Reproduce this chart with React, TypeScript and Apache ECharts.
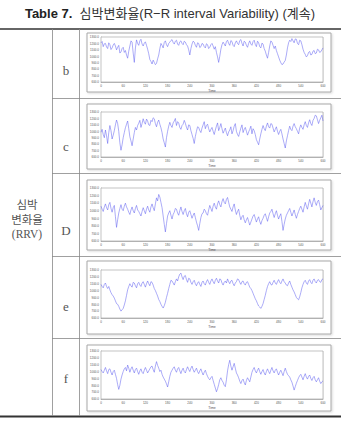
import React, { useEffect, useRef } from "react";
import * as echarts from "echarts";

const TITLE_BOLD = "Table 7.";
const TITLE_REST = "심박변화율(R−R interval Variability) (계속)";
const ROW_LABELS = ["b", "c", "D", "e", "f"];
const GROUP_LABEL = ["심박", "변화율", "(RRV)"];
const X_NAME = "Time";
const STEP_SEC = 3;
const Y_MIN = 600;
const Y_MAX = 1300;
const Y_STEP = 100;
const X_MAX = 600;
const X_STEP = 60;

const seriesB = [1210,1230,1150,1195,1200,1145,1120,1210,1180,1105,1130,1175,1200,1160,1100,1140,1170,1050,1070,1120,
1140,1060,1090,1020,970,1080,1160,1240,1220,1050,905,1130,1255,1200,1170,1240,1265,1190,1160,1205,
1225,1170,1110,1040,950,920,880,940,905,870,890,960,1020,1120,1200,1170,1130,1215,1240,1180,
1150,1200,1220,1245,1260,1215,1190,1235,1250,1190,1170,1225,1240,1200,1180,1235,1220,1180,1160,1100,
1020,1120,1190,1235,1220,1170,1140,1210,1200,1135,1150,1200,1190,1150,1130,1195,1180,1120,1140,1180,
1200,1160,1110,1150,1060,990,905,1000,1110,1180,1220,1190,1160,1230,1250,1200,1170,1245,1230,1170,
1150,1210,1240,1200,1180,1245,1260,1200,1160,1235,1220,1170,1140,1200,1240,1190,1170,1230,1250,1185,
1150,1235,1210,1150,1130,1205,1190,1120,1080,1020,970,1060,1160,1240,1220,1170,1120,1160,1090,1040,
990,940,900,870,880,910,935,1020,1130,1210,1250,1230,1275,1240,1210,1270,1265,1200,1180,1250,
1240,1180,1110,1060,1030,990,1010,1060,1075,1020,1030,1080,1090,1040,1050,1110,1100,1060,1070,1100,
1130];
const seriesC = [985,1030,950,900,1020,930,810,980,1090,1010,880,940,1010,1100,1175,1120,1000,820,705,790,
900,980,1055,1110,1160,1040,915,850,775,880,980,1060,1020,1090,1125,1170,1060,1120,1195,1140,
1110,1190,1160,1100,1090,1170,1150,1210,1195,1120,1070,1140,1175,1110,1055,980,880,820,755,900,
1000,1080,1140,1090,1060,1130,1160,1200,1090,1150,1130,1060,1030,1090,1110,1170,1125,1060,1020,1100,
1090,1010,950,890,810,920,1000,1070,1060,1010,980,1050,1100,1150,1040,1090,1110,1040,990,1030,
1060,1000,950,1020,1080,1130,1010,1060,1120,1040,970,1010,1050,980,930,990,1020,1070,960,1010,
1080,1120,1000,950,920,990,1050,1100,980,1030,1060,1000,940,990,1030,1080,960,1040,1010,950,
870,830,790,880,960,1030,1090,1040,1010,1080,1130,1070,1050,1120,1110,1050,990,1030,1070,1000,
950,1000,1030,960,880,810,740,850,930,1010,1080,1030,1010,1080,1120,1070,1040,1000,960,1050,
1100,1060,1030,1100,1150,1090,1060,1130,1180,1120,1090,1170,1200,1250,1240,1180,1120,1170,1210,1250,
1160];
const seriesD = [1060,1020,990,1050,1090,1040,1010,1080,1110,1030,980,1040,1070,920,780,880,970,1030,1080,1020,
1000,1060,1100,1050,1020,980,950,1010,1050,1000,970,1030,1070,1010,990,960,930,990,1040,1000,
960,1020,1060,1010,980,1050,1090,1040,1000,1090,1170,1130,1215,1180,1110,1040,930,820,720,830,
930,970,1000,940,890,950,980,1030,1020,970,940,1000,1050,990,950,1000,1030,960,920,980,
1000,950,900,940,970,910,850,800,740,830,910,960,970,1020,1000,960,940,1010,1070,1030,
990,1060,1100,1050,1020,1090,1130,1080,1050,1120,1160,1110,1090,1150,1175,1110,1050,1020,990,1050,
1090,1010,950,990,1020,940,880,920,940,880,840,880,910,860,810,850,890,930,950,900,
850,890,920,860,820,870,900,940,960,910,860,920,970,990,1020,960,910,960,1000,940,
890,930,960,860,740,820,890,940,970,1000,1030,980,930,970,1010,950,900,950,990,1030,
1060,1020,980,1050,1110,1060,1020,1090,1150,1100,1050,1120,1170,1110,1070,1120,1140,1080,1010,1040,
1070];
const seriesE = [1090,1060,1040,1090,1110,1060,1030,1060,1010,970,940,920,890,850,810,800,770,730,700,720,
740,790,850,930,1010,1060,1100,1070,1050,1120,1110,1070,1040,1100,1120,1080,1060,1110,1130,1090,
1050,1100,1140,1100,1070,1130,1120,1080,1030,1000,960,920,870,840,800,770,745,780,830,900,
960,1030,1090,1150,1140,1110,1080,1130,1170,1140,1200,1240,1255,1200,1160,1210,1220,1160,1120,1180,
1170,1120,1090,1130,1150,1100,1070,1110,1130,1090,1060,1120,1140,1100,1080,1130,1160,1120,1090,1140,
1170,1130,1100,1150,1180,1140,1110,1170,1160,1110,1080,1120,1140,1110,1170,1130,1100,1140,1150,1100,
1070,1110,1130,1170,1160,1120,1090,1130,1140,1100,1080,1120,1130,1090,1050,1030,1000,960,920,880,
850,810,775,760,740,770,810,870,930,1000,1060,1100,1130,1090,1080,1120,1150,1110,1090,1130,
1160,1120,1100,1140,1170,1130,1110,1080,1070,1110,1140,1090,1050,1010,980,940,900,880,865,910,
970,1040,1090,1130,1150,1110,1090,1140,1160,1120,1100,1150,1170,1130,1110,1150,1160,1130,1120,1160,
1170];
const seriesF = [1030,1000,980,1020,1060,1010,970,1030,1040,990,950,1000,1020,960,900,810,740,800,890,950,
1000,1040,1060,1010,1095,1050,990,1040,1070,1020,980,1030,1050,1000,960,1010,1040,990,970,1020,
1060,1020,980,1010,1040,1070,1080,1030,990,1080,1145,1090,1050,1000,1020,960,920,890,860,820,
775,850,930,990,1020,1050,1070,1020,990,1040,1060,1010,970,1020,1050,1000,980,1030,1070,1030,
1000,1050,1080,1030,990,1020,1050,1000,970,1010,1040,990,950,990,1020,970,930,900,880,910,
930,870,815,760,705,750,810,880,910,870,845,800,780,880,1010,1100,1165,1080,1020,1070,
1120,1050,980,950,910,860,825,870,890,840,805,870,910,880,850,920,990,1030,1060,1010,
980,1020,1050,1000,960,1000,1030,980,950,1000,1040,1000,970,1020,1060,1010,980,1020,1040,990,
950,990,1020,980,940,1000,1050,1000,960,940,920,880,845,790,730,780,830,870,910,940,
960,920,880,930,970,920,890,930,950,900,870,910,930,880,850,880,910,860,825,850,
865];

const ALL_SERIES = [seriesB, seriesC, seriesD, seriesE, seriesF];

// layout (pixels)
const PLOT_TOPS = [37, 112, 188, 270, 351];
const PLOT_HEIGHTS = [45, 45, 53, 48, 48];
const FRAME_TOPS = [33, 104, 180, 261, 345];
const FRAME_BOTTOMS = [92, 169, 250, 334, 411];
const ROW_SEPS = [98, 173, 256, 338];
const ROW_LABEL_Y = [70, 146, 230, 306, 378];

export default function App() {
  const ref = useRef<HTMLDivElement>(null);
  useEffect(() => {
    if (!ref.current) return;
    const chart = echarts.init(ref.current, null, { renderer: "svg" });
    const grids: any[] = [];
    const xAxes: any[] = [];
    const yAxes: any[] = [];
    const series: any[] = [];
    ALL_SERIES.forEach((arr, k) => {
      grids.push({
        left: 101,
        width: 222,
        top: PLOT_TOPS[k],
        height: PLOT_HEIGHTS[k],
        show: true,
        borderColor: "#9a9a9a",
        borderWidth: 0.6,
        backgroundColor: "#fff",
        z: 1,
      });
      xAxes.push({
        type: "value",
        gridIndex: k,
        min: 0,
        max: X_MAX,
        interval: X_STEP,
        name: X_NAME,
        nameLocation: "middle",
        nameGap: 7,
        nameTextStyle: { fontSize: 3.5, color: "#555", fontFamily: "Liberation Sans" },
        axisLine: { lineStyle: { color: "#999", width: 0.6 } },
        axisTick: { show: false },
        axisLabel: { fontSize: 3, color: "#555", margin: 2, fontFamily: "Liberation Sans" },
        splitLine: { show: true, lineStyle: { color: "#e2e2e2", width: 0.5 } },
      });
      yAxes.push({
        type: "value",
        gridIndex: k,
        min: Y_MIN,
        max: Y_MAX,
        interval: Y_STEP,
        axisLine: { show: true, lineStyle: { color: "#999", width: 0.6 } },
        axisTick: { show: false },
        axisLabel: {
          fontSize: 3,
          color: "#555",
          margin: 2,
          fontFamily: "Liberation Sans",
          formatter: (v: number) => v.toFixed(1),
        },
        splitLine: { show: true, lineStyle: { color: "#dcdcdc", width: 0.5 } },
      });
      series.push({
        type: "line",
        xAxisIndex: k,
        yAxisIndex: k,
        showSymbol: false,
        data: arr.map((v, i) => [i * STEP_SEC, v]),
        lineStyle: { color: "#5858ee", width: 0.5 },
        z: 3,
      });
    });

    const graphic: any[] = [];
    const line = (x1: number, y1: number, x2: number, y2: number, color: string, w: number) =>
      graphic.push({ type: "line", shape: { x1, y1, x2, y2 }, style: { stroke: color, lineWidth: w }, z: 10 });

    FRAME_TOPS.forEach((t, k) => {
      graphic.push({
        type: "rect",
        shape: { x: 87, y: t, width: 244, height: FRAME_BOTTOMS[k] - t },
        style: { fill: "#fff", stroke: "#a8a8a8", lineWidth: 1, shadowColor: "rgba(0,0,0,0.15)", shadowBlur: 2, shadowOffsetX: 1, shadowOffsetY: 1 },
        z: -10,
        silent: true,
      });
    });
    line(0, 29, 341, 29, "#333", 1.4);
    line(0, 416.5, 341, 416.5, "#333", 2);
    line(52.5, 29, 52.5, 416, "#888", 0.8);
    line(79.5, 29, 79.5, 416, "#888", 0.8);
    ROW_SEPS.forEach((y) => line(52, y + 0.5, 341, y + 0.5, "#888", 0.8));

    graphic.push({
      type: "text",
      x: 170,
      y: 13,
      style: {
        text: "{b|" + TITLE_BOLD + "}  " + TITLE_REST,
        rich: { b: { fontWeight: "bold", fontSize: 13, fontFamily: "Liberation Sans", fill: "#222" } },
        font: "13px 'Liberation Sans', 'Noto Sans CJK KR'",
        fill: "#333",
        align: "center",
        verticalAlign: "middle",
      },
      z: 10,
    });
    ROW_LABELS.forEach((t, k) =>
      graphic.push({
        type: "text",
        x: 66,
        y: ROW_LABEL_Y[k],
        style: { text: t, font: "13px 'Liberation Serif', 'DejaVu Serif'", fill: "#555", align: "center", verticalAlign: "middle" },
        z: 10,
      })
    );
    GROUP_LABEL.forEach((t, k) =>
      graphic.push({
        type: "text",
        x: 27,
        y: 205 + k * 14.5,
        style: { text: t, font: "11.5px 'Liberation Serif', 'Noto Sans CJK KR'", fill: "#555", align: "center", verticalAlign: "middle" },
        z: 10,
      })
    );

    chart.setOption({
      animation: false,
      backgroundColor: "#fff",
      grid: grids,
      xAxis: xAxes,
      yAxis: yAxes,
      series,
      graphic,
    });
    return () => chart.dispose();
  }, []);
  return <div ref={ref} style={{ position: "fixed", left: 0, top: 0, width: 341, height: 430 }} />;
}
